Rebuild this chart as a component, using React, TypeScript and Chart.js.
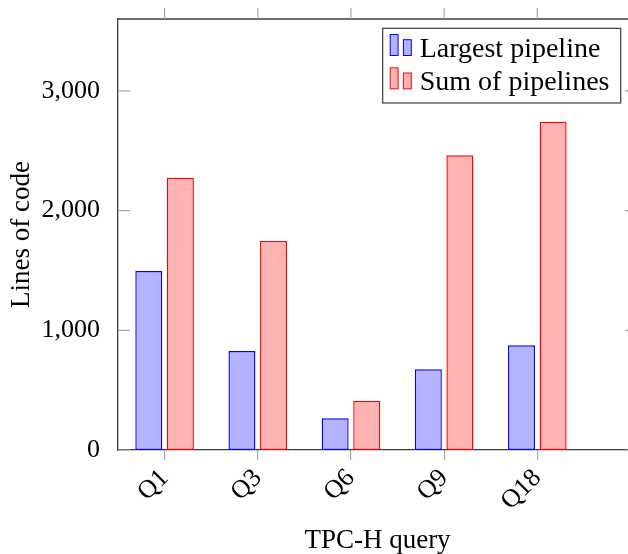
import React, { useEffect, useRef } from 'react';
import { Chart, registerables } from 'chart.js';

Chart.register(...registerables);

const categories = ['Q1', 'Q3', 'Q6', 'Q9', 'Q18'];
const largestPipeline = [1495, 827, 265, 674, 875];
const sumOfPipelines = [2275, 1746, 412, 2462, 2741];
const seriesNames = ['Largest pipeline', 'Sum of pipelines'];
const yTicks = [0, 1000, 2000, 3000];

const FONT = "'Liberation Serif', 'Times New Roman', serif";
const AXIS_COLOR = '#3c3c3c';
const TICK_COLOR = '#a8a8a8';
const BLUE_FILL = 'rgb(179,179,255)';
const BLUE_LINE = '#0000ff';
const RED_FILL = 'rgb(255,179,179)';
const RED_LINE = '#ff0000';

const CANVAS_W = 660;
const CANVAS_H = 554;

const framePlugin = {
  id: 'frame',
  afterDraw(chart: any) {
    const { ctx, chartArea } = chart;
    const { left, right, top, bottom } = chartArea;
    const xs = chart.scales.x;
    const ys = chart.scales.y;
    ctx.save();
    // top and right axis lines
    ctx.strokeStyle = AXIS_COLOR;
    ctx.lineWidth = 1.3;
    ctx.beginPath();
    ctx.moveTo(left, top);
    ctx.lineTo(right, top);
    ctx.moveTo(right, top);
    ctx.lineTo(right, bottom);
    ctx.stroke();

    // tick marks
    ctx.strokeStyle = TICK_COLOR;
    ctx.lineWidth = 1.2;
    ctx.beginPath();
    categories.forEach((_, i) => {
      const px = xs.getPixelForValue(i);
      ctx.moveTo(px, top - 11);
      ctx.lineTo(px, top);
    });
    yTicks.forEach((v) => {
      const py = ys.getPixelForValue(v);
      ctx.moveTo(left, py);
      ctx.lineTo(left + 12, py);
      ctx.moveTo(right - 12, py);
      ctx.lineTo(right, py);
    });
    ctx.stroke();

    // legend
    const bx = right - 254.3;
    const by = top + 9.3;
    const bw = 238;
    const bh = 74.7;
    ctx.fillStyle = '#ffffff';
    ctx.fillRect(bx, by, bw, bh);
    ctx.strokeStyle = AXIS_COLOR;
    ctx.lineWidth = 1.2;
    ctx.strokeRect(bx, by, bw, bh);
    ctx.font = `28px ${FONT}`;
    ctx.textBaseline = 'alphabetic';
    ctx.textAlign = 'left';
    chart.data.datasets.forEach((ds: any, i: number) => {
      const baseline = by + 28.4 + i * 33.3;
      const ib = baseline - 1.2;
      ctx.fillStyle = ds.backgroundColor;
      ctx.strokeStyle = ds.borderColor;
      ctx.lineWidth = 1;
      ctx.fillRect(bx + 7.5, ib - 21, 7.9, 21);
      ctx.strokeRect(bx + 7.5, ib - 21, 7.9, 21);
      ctx.fillRect(bx + 20.7, ib - 15.8, 7.9, 15.8);
      ctx.strokeRect(bx + 20.7, ib - 15.8, 7.9, 15.8);
      ctx.fillStyle = '#000';
      ctx.fillText(ds.label, bx + 37, baseline);
    });
    ctx.restore();
  },
};

export default function App() {
  const ref = useRef<HTMLCanvasElement>(null);

  useEffect(() => {
    const canvas = ref.current;
    if (!canvas) return;
    const chart = new Chart(canvas, {
      type: 'bar',
      data: {
        datasets: [
          {
            label: seriesNames[0],
            data: largestPipeline.map((v, i) => ({ x: i, y: v })),
            backgroundColor: BLUE_FILL,
            borderColor: BLUE_LINE,
            borderWidth: 1.4,
            borderSkipped: false,
          },
          {
            label: seriesNames[1],
            data: sumOfPipelines.map((v, i) => ({ x: i, y: v })),
            backgroundColor: RED_FILL,
            borderColor: RED_LINE,
            borderWidth: 1.4,
            borderSkipped: false,
          },
        ],
      },
      options: {
        responsive: false,
        animation: false,
        devicePixelRatio: 1,
        categoryPercentage: 0.678,
        barPercentage: 0.854,
        layout: { padding: { top: 19, right: CANVAS_W - 637, left: 0, bottom: 0 } },
        plugins: { legend: { display: false }, tooltip: { enabled: false } },
        scales: {
          x: {
            type: 'linear',
            min: -0.5,
            max: 5.07,
            offset: false,
            afterBuildTicks: (scale: any) => {
              scale.ticks = categories.map((_, i) => ({ value: i }));
            },
            afterFit: (scale: any) => {
              scale.height = 104;
              scale.paddingLeft = 0;
              scale.paddingRight = 0;
            },
            ticks: {
              minRotation: 45,
              maxRotation: 45,
              padding: 3,
              color: '#000',
              font: { family: FONT, size: 26 },
              callback: (v: any) => categories[v] ?? '',
            },
            grid: {
              display: true,
              offset: false,
              drawOnChartArea: false,
              drawTicks: true,
              tickLength: 10,
              color: TICK_COLOR,
              lineWidth: 1.2,
            },
            border: { display: true, color: AXIS_COLOR, width: 1.3 },
            title: {
              display: true,
              text: 'TPC-H query',
              color: '#000',
              font: { family: FONT, size: 27, lineHeight: 1 },
              padding: { top: 0, bottom: 0 },
            },
          },
          y: {
            type: 'linear',
            min: 0,
            max: 3600,
            afterBuildTicks: (scale: any) => {
              scale.ticks = yTicks.map((v) => ({ value: v }));
            },
            afterFit: (scale: any) => {
              scale.width = 118;
              scale.paddingTop = 0;
              scale.paddingBottom = 0;
            },
            ticks: {
              padding: 10,
              color: '#000',
              font: { family: FONT, size: 26 },
              callback: (v: any) => Number(v).toLocaleString('en-US'),
            },
            grid: { display: false },
            border: { display: true, color: AXIS_COLOR, width: 1.3 },
            title: {
              display: true,
              text: 'Lines of code',
              color: '#000',
              font: { family: FONT, size: 27, lineHeight: 1 },
              padding: { top: 8, bottom: 8 },
            },
          },
        },
      },
      plugins: [framePlugin],
    } as any);
    return () => chart.destroy();
  }, []);

  return (
    <div
      style={{
        position: 'fixed',
        left: 0,
        top: 0,
        width: 628,
        height: 554,
        overflow: 'hidden',
        background: '#fff',
      }}
    >
      <canvas
        ref={ref}
        width={CANVAS_W}
        height={CANVAS_H}
        style={{ width: CANVAS_W, height: CANVAS_H, display: 'block' }}
      />
    </div>
  );
}
